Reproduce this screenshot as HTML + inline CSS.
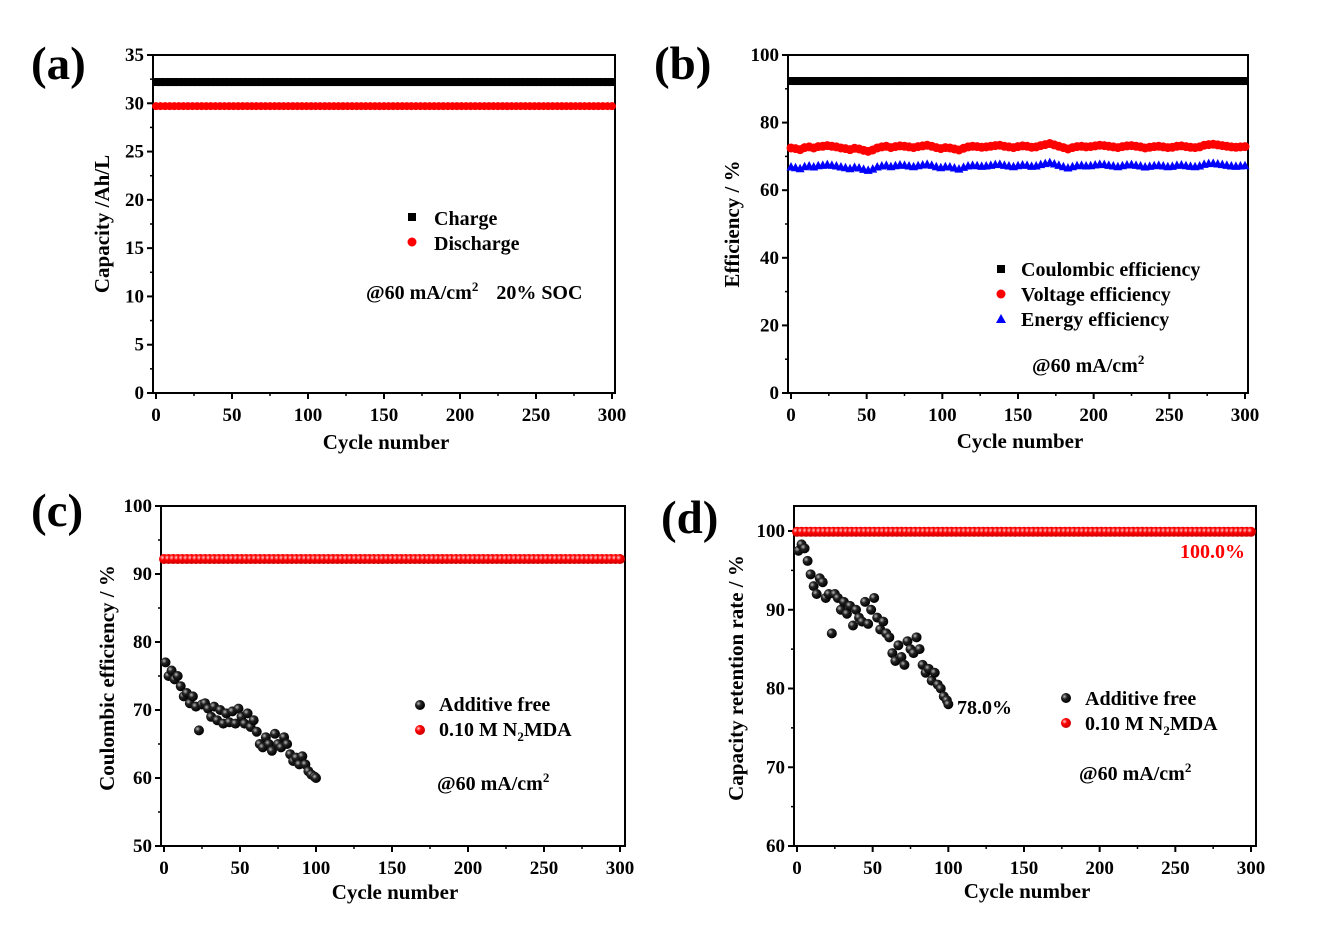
<!DOCTYPE html>
<html><head><meta charset="utf-8"><style>
body{margin:0;background:#fff;}
svg{display:block;font-family:"Liberation Serif",serif;font-weight:bold;}
</style></head><body>
<svg id="s" width="1334" height="925" viewBox="0 0 1334 925" xmlns="http://www.w3.org/2000/svg">
<defs>
<radialGradient id="gb" cx="35%" cy="35%" r="65%"><stop offset="0" stop-color="#bbb"/><stop offset="0.4" stop-color="#222"/><stop offset="1" stop-color="#000"/></radialGradient>
<radialGradient id="gr" cx="35%" cy="35%" r="65%"><stop offset="0" stop-color="#fcc"/><stop offset="0.4" stop-color="#f00"/><stop offset="1" stop-color="#c00"/></radialGradient>
</defs>
<g id="g"></g>
</svg>
<script>
// ---- data ----
const cyclesBlack = [1,3,5,7,9,11,13,15,17,19,21,23,25,27,29,31,33,35,37,39,41,43,45,47,49,51,53,55,57,59,61,63,65,67,69,71,73,75,77,79,81,83,85,87,89,91,93,95,97,99,100];
const ceBlack = [77,75,75.8,74.5,75,73.5,72,72.5,71,72,70.5,67,70.8,71,70.2,69,70.5,68.5,70,68,69.5,68.2,69.8,68,70.2,69,68,69.5,67.5,68.5,66.8,65,64.5,66,65,64,66.5,65,64.5,66,65,63.5,62.5,63,62,63.2,62,61,60.5,60.2,60];
const crBlack = [97.5,98.3,97.8,96.2,94.5,93,92,94,93.5,91.5,92,87,92,91.5,90,91,89.5,90.5,88,90,89,88.5,91,88.2,90,91.5,89,87.5,88.5,87,86.5,84.5,83.5,85.5,84,83,86,85,84.5,86.5,85,83,82,82.5,81,82,80.5,80,79,78.5,78];
const cyclesFlat = [];
for (let c = 0; c <= 300; c += 3) cyclesFlat.push(c);
const ceRed = Array(cyclesFlat.length).fill(92.2);
const crRed = Array(cyclesFlat.length).fill(99.9);
const capCharge = Array(cyclesFlat.length).fill(32.2);
const capDischarge = Array(cyclesFlat.length).fill(29.7);
const effCE = Array(cyclesFlat.length).fill(92.3);
const effVE = [72.5,72.3,72,72.6,72.8,72.5,72.9,73,73.2,73,72.8,72.5,72.3,72,72.4,72.2,71.8,71.5,71.9,72.5,72.8,73,72.6,72.9,73.1,73,72.8,72.6,72.9,73.1,73.3,73,72.6,72.3,72.6,72.5,72.2,71.9,72.4,72.8,73,72.9,72.7,72.8,73,73.2,73.3,73,72.8,72.6,72.9,73.1,73,72.7,72.8,73.2,73.5,73.8,73.4,73,72.6,72.2,72.6,72.9,73,72.8,72.9,73.1,73.3,73.2,73,72.8,72.6,72.9,73.1,73.2,73,72.8,72.5,72.7,72.9,73,72.8,72.6,72.7,73,73.1,72.9,72.7,72.6,72.8,73.3,73.5,73.6,73.4,73.2,73,72.8,72.7,72.8,72.9];
const effEE = effVE.map(v => v - 5.5);
const xTicks = [0,50,100,150,200,250,300];

const g = document.getElementById('g');
const NS = 'http://www.w3.org/2000/svg';
function el(tag, attrs, parent) {
  const e = document.createElementNS(NS, tag);
  for (const k in attrs) e.setAttribute(k, attrs[k]);
  (parent || g).appendChild(e);
  return e;
}
function txt(x, y, s, size, anchor, parent) {
  const t = el('text', {x: x, y: y, 'font-size': size, 'text-anchor': anchor || 'middle'}, parent);
  t.innerHTML = s;
  return t;
}
function panel(name, box, x0px, x300px, yMin, yMax, yTop, yBot, yTicks, minorStep) {
  const grp = el('g', {});
  
  
  const sx = c => x0px + (x300px - x0px) * c / 300;
  const sy = v => yBot - (yBot - yTop) * (v - yMin) / (yMax - yMin);
  el('rect', {x: box[0], y: box[1], width: box[2] - box[0], height: box[3] - box[1], fill: 'none', stroke: '#000', 'stroke-width': 2}, grp);
  xTicks.forEach(t => {
    el('line', {x1: sx(t), x2: sx(t), y1: box[3], y2: box[3] + 6, stroke: '#000', 'stroke-width': 2}, grp);
    el('line', {x1: sx(t + 25), x2: sx(t + 25), y1: box[3], y2: box[3] + 3, stroke: t < 300 ? '#000' : 'none', 'stroke-width': 1.5}, grp);
    txt(sx(t), box[3] + 28, t, 19, 'middle', grp);
  });
  yTicks.forEach(t => {
    el('line', {x1: box[0] - 6, x2: box[0], y1: sy(t), y2: sy(t), stroke: '#000', 'stroke-width': 2}, grp);
    if (t + minorStep <= yMax) el('line', {x1: box[0] - 3, x2: box[0], y1: sy(t + minorStep), y2: sy(t + minorStep), stroke: '#000', 'stroke-width': 1.5}, grp);
    txt(box[0] - 9, sy(t) + 6, t, 19, 'end', grp);
  });
  return {sx, sy, grp};
}

// (a)
let A = panel('panel-a', [153, 55, 615, 393], 156, 612, 0, 35, 55, 393, [0,5,10,15,20,25,30,35], 2.5);
cyclesFlat.forEach((c, i) => {
  el('rect', {x: A.sx(c) - 4, y: A.sy(capCharge[i]) - 4, width: 8, height: 8, fill: '#000'}, A.grp);
  el('circle', {cx: A.sx(c), cy: A.sy(capDischarge[i]), r: 4, fill: '#f00'}, A.grp);
});
txt(386, 449, 'Cycle number', 21, 'middle', A.grp);
let t = txt(0, 0, 'Capacity /Ah/L', 21, 'middle', A.grp); t.setAttribute('transform', 'translate(109,224) rotate(-90)');
el('rect', {x: 408, y: 213, width: 8, height: 8, fill: '#000'}, A.grp);
txt(434, 225, 'Charge', 20, 'start', A.grp);
el('circle', {cx: 412, cy: 242, r: 4.5, fill: '#f00'}, A.grp);
txt(434, 250, 'Discharge', 20, 'start', A.grp);
txt(366, 299, '@60 mA/cm<tspan font-size="13" dy="-8">2</tspan><tspan dy="8" dx="18">20% SOC</tspan>', 20, 'start', A.grp);
txt(31, 79, '(a)', 47, 'start');

// (b)
let B = panel('panel-b', [788, 55, 1248, 393], 791, 1245, 0, 100, 55, 393, [0,20,40,60,80,100], 10);
cyclesFlat.forEach((c, i) => {
  el('rect', {x: B.sx(c) - 4, y: B.sy(effCE[i]) - 4, width: 8, height: 8, fill: '#000'}, B.grp);
  el('circle', {cx: B.sx(c), cy: B.sy(effVE[i]), r: 4.5, fill: '#f00'}, B.grp);
  el('polygon', {points: `${B.sx(c)-4.5},${B.sy(effEE[i])+4} ${B.sx(c)+4.5},${B.sy(effEE[i])+4} ${B.sx(c)},${B.sy(effEE[i])-4.5}`, fill: '#00f'}, B.grp);
});
txt(1020, 448, 'Cycle number', 21, 'middle', B.grp);
t = txt(0, 0, 'Efficiency / %', 21, 'middle', B.grp); t.setAttribute('transform', 'translate(739,224) rotate(-90)');
el('rect', {x: 997, y: 265, width: 8, height: 8, fill: '#000'}, B.grp);
txt(1021, 276, 'Coulombic efficiency', 20, 'start', B.grp);
el('circle', {cx: 1001, cy: 294, r: 4.5, fill: '#f00'}, B.grp);
txt(1021, 301, 'Voltage efficiency', 20, 'start', B.grp);
el('polygon', {points: '996,323 1006,323 1001,314', fill: '#00f'}, B.grp);
txt(1021, 326, 'Energy efficiency', 20, 'start', B.grp);
txt(1032, 372, '@60 mA/cm<tspan font-size="13" dy="-8">2</tspan>', 20, 'start', B.grp);
txt(654, 79, '(b)', 47, 'start');

// (c)
let C = panel('panel-c', [161, 506, 625, 846], 164, 620, 50, 100, 506, 846, [50,60,70,80,90,100], 5);
cyclesFlat.forEach((c, i) => el('circle', {cx: C.sx(c), cy: C.sy(ceRed[i]), r: 5, fill: 'url(#gr)'}, C.grp));
cyclesBlack.forEach((c, i) => el('circle', {cx: C.sx(c), cy: C.sy(ceBlack[i]), r: 5, fill: 'url(#gb)'}, C.grp));
txt(395, 899, 'Cycle number', 21, 'middle', C.grp);
t = txt(0, 0, 'Coulombic efficiency / %', 21, 'middle', C.grp); t.setAttribute('transform', 'translate(114,678) rotate(-90)');
el('circle', {cx: 420, cy: 705, r: 5, fill: 'url(#gb)'}, C.grp);
txt(439, 711, 'Additive free', 20, 'start', C.grp);
el('circle', {cx: 420, cy: 730, r: 5, fill: 'url(#gr)'}, C.grp);
txt(439, 736, '0.10 M N<tspan font-size="13" dy="5">2</tspan><tspan dy="-5">MDA</tspan>', 20, 'start', C.grp);
txt(437, 790, '@60 mA/cm<tspan font-size="13" dy="-8">2</tspan>', 20, 'start', C.grp);
txt(31, 526, '(c)', 47, 'start');

// (d)
let D = panel('panel-d', [794, 506, 1256, 846], 797, 1251, 60, 100, 531, 846, [60,70,80,90,100], 5);
cyclesFlat.forEach((c, i) => el('circle', {cx: D.sx(c), cy: D.sy(crRed[i]), r: 5, fill: 'url(#gr)'}, D.grp));
cyclesBlack.forEach((c, i) => el('circle', {cx: D.sx(c), cy: D.sy(crBlack[i]), r: 5, fill: 'url(#gb)'}, D.grp));
txt(1027, 898, 'Cycle number', 21, 'middle', D.grp);
t = txt(0, 0, 'Capacity retention rate / %', 21, 'middle', D.grp); t.setAttribute('transform', 'translate(743,678) rotate(-90)');
el('circle', {cx: 1066, cy: 698, r: 5, fill: 'url(#gb)'}, D.grp);
txt(1085, 705, 'Additive free', 20, 'start', D.grp);
el('circle', {cx: 1066, cy: 723, r: 5, fill: 'url(#gr)'}, D.grp);
txt(1085, 730, '0.10 M N<tspan font-size="13" dy="5">2</tspan><tspan dy="-5">MDA</tspan>', 20, 'start', D.grp);
txt(1079, 780, '@60 mA/cm<tspan font-size="13" dy="-8">2</tspan>', 20, 'start', D.grp);
txt(957, 714, '78.0%', 20, 'start', D.grp);
let rt = txt(1180, 558, '100.0%', 20, 'start', D.grp); rt.setAttribute('fill', '#f00');
txt(661, 533, '(d)', 47, 'start');
</script>
</body></html>
